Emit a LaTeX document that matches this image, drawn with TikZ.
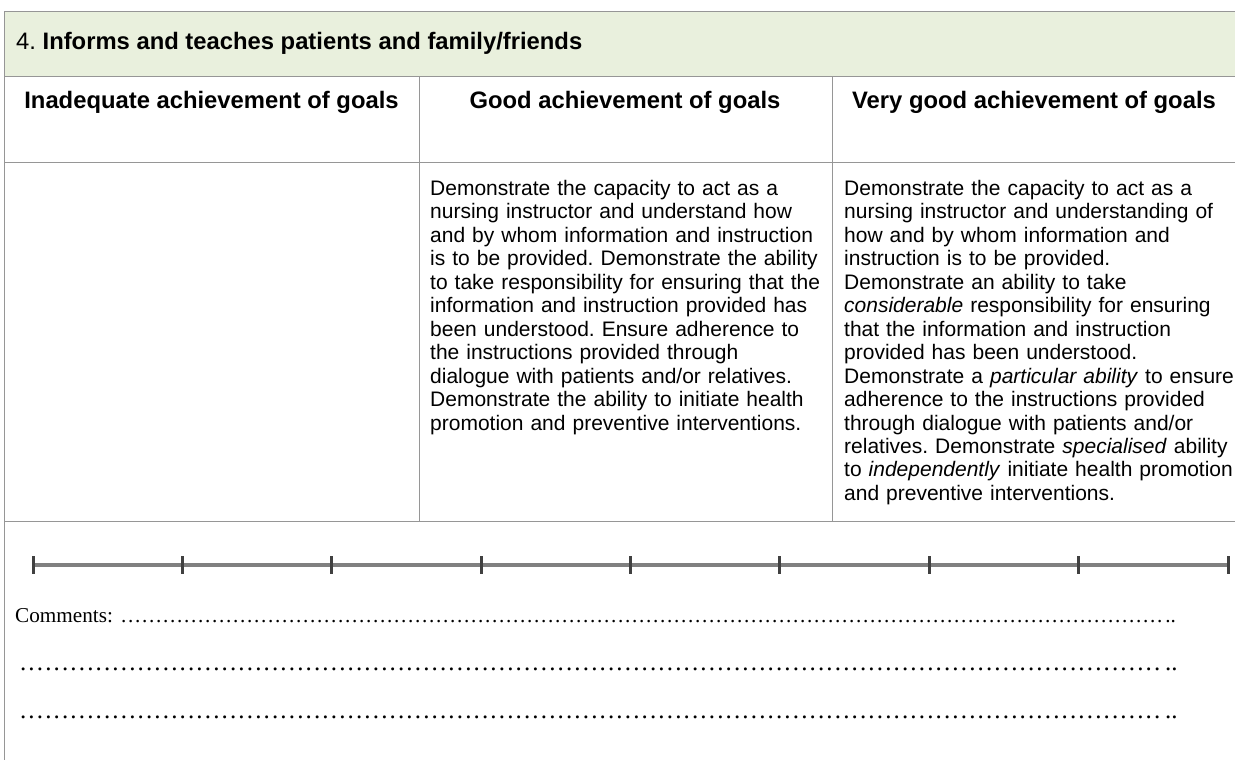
\documentclass[tikz,border=0pt]{standalone}
\usepackage{fontspec}
\setmainfont{Liberation Serif}
\setsansfont{Liberation Sans}
\frenchspacing
\definecolor{headgreen}{RGB}{233,240,221}
\definecolor{rulegray}{RGB}{150,150,150}
\newcommand{\dotrun}[2]{\hbox to #1{\cleaders\hbox to #2{\hss.\hss}\hfill}}
\tikzset{
	% table rules
	tablerule/.style={draw=rulegray,line width=1pt},
	% texts
	titletext/.style={inner sep=0pt,anchor=base west,font=\sffamily\fontsize{23.8}{26}\selectfont},
	headtext/.style={inner sep=0pt,anchor=base,font=\sffamily\bfseries\fontsize{23.8}{26}\selectfont},
	celltext/.style={inner sep=0pt,anchor=base west,align=left,text width=390pt,font=\sffamily\fontsize{21}{23.5}\selectfont},
	commenttext/.style={inner sep=0pt,anchor=base west},
	% scale line
	scaleline/.style={draw=gray,line width=3.5pt},
	scaletick/.style={draw=black!75,line width=3pt},
}

\begin{document}
\begin{tikzpicture}[x=1pt,y=-1pt]
	\useasboundingbox (0,0) rectangle (1235,760);
	\fill[headgreen] (4,12) rectangle (1235,77);
	\draw[tablerule] (1235,12) -- (4,12) -- (4,760);
	\draw[tablerule] (4,77) -- (1235,77);
	\draw[tablerule] (4,162) -- (1235,162);
	\draw[tablerule] (4,521) -- (1235,521);
	\draw[tablerule] (419,77) -- (419,521);
	\draw[tablerule] (832,77) -- (832,521);
	
	\node[titletext] (title) at (16,50) {4. \textbf{Informs and teaches patients and family/friends}};
	
	\node[headtext] (headInad) at (211.5,109) {Inadequate achievement of goals};
	\node[headtext] (headGood) at (625,109) {Good achievement of goals};
	\node[headtext] (headVgood) at (1034,109) {Very good achievement of goals};
	
	\node[celltext] (textGood) at (430,195) {Demonstrate the capacity to act as a\\
		nursing instructor and understand how\\
		and by whom information and instruction\\
		is to be provided. Demonstrate the ability\\
		to take responsibility for ensuring that the\\
		information and instruction provided has\\
		been understood. Ensure adherence to\\
		the instructions provided through\\
		dialogue with patients and/or relatives.\\
		Demonstrate the ability to initiate health\\
		promotion and preventive interventions.};
	\node[celltext] (textVgood) at (844,195) {Demonstrate the capacity to act as a\\
		nursing instructor and understanding of\\
		how and by whom information and\\
		instruction is to be provided.\\
		Demonstrate an ability to take\\
		\textit{considerable} responsibility for ensuring\\
		that the information and instruction\\
		provided has been understood.\\
		Demonstrate a \textit{particular ability} to ensure\\
		adherence to the instructions provided\\
		through dialogue with patients and/or\\
		relatives. Demonstrate \textit{specialised} ability\\
		to \textit{independently} initiate health promotion\\
		and preventive interventions.};
	
	\coordinate (scaleL) at (33,565);
	\coordinate (scaleR) at (1228,565);
	\draw[scaleline] (scaleL) -- (scaleR);
	\foreach \i in {0,...,8}
		\draw[scaletick] ({33+149.375*\i},556) -- ({33+149.375*\i},574);
	
	\node[commenttext,font=\fontsize{21.2}{24}\selectfont] (comments) at (15,622) {Comments: \dotrun{1047pt}{7pt}..};
	\node[commenttext,font=\fontsize{25}{28}\selectfont] (dotsA) at (15,670) {\dotrun{1150pt}{8.4pt}..};
	\node[commenttext,font=\fontsize{25}{28}\selectfont] (dotsB) at (15,718) {\dotrun{1150pt}{8.4pt}..};
\end{tikzpicture}
\end{document}
